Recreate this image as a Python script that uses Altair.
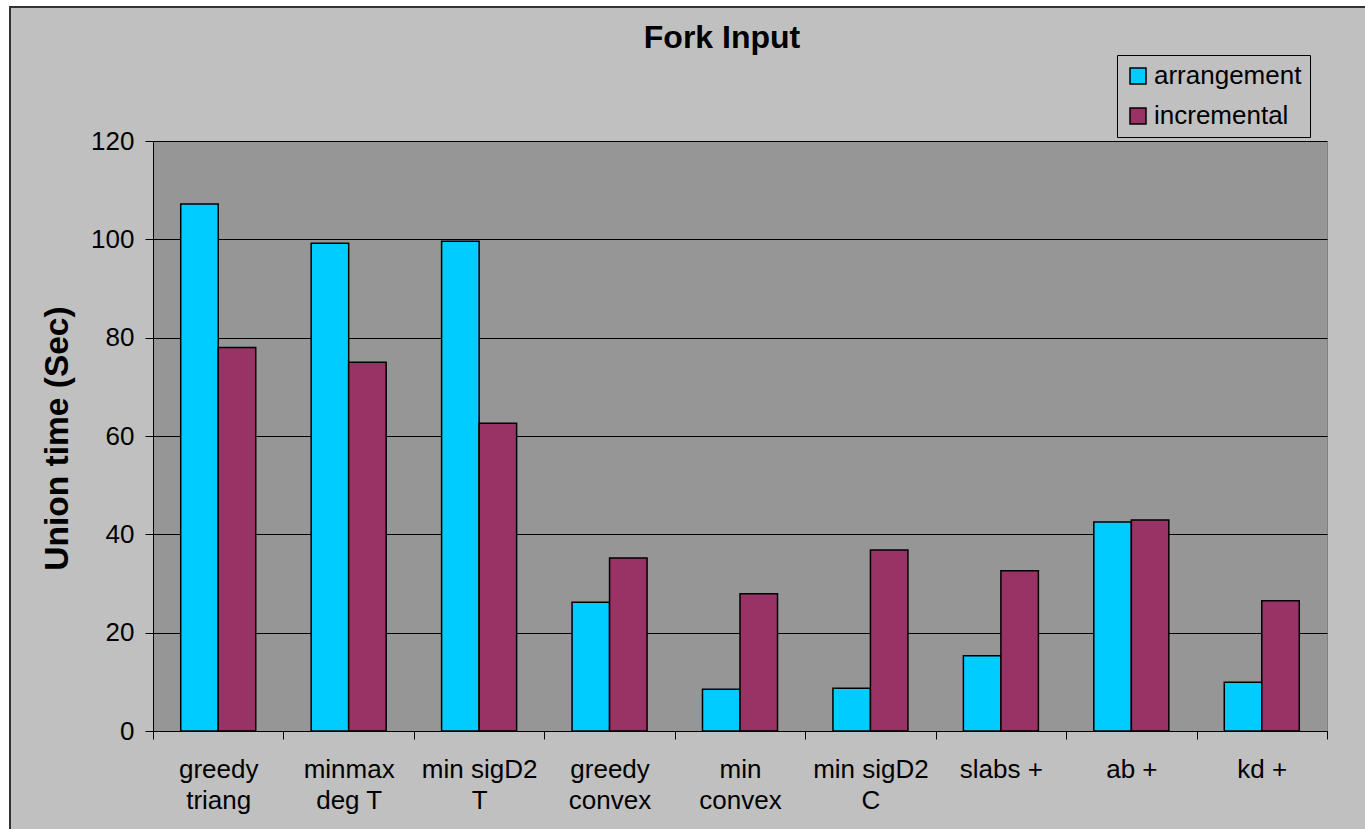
import altair as alt
import pandas as pd

# Category labels (two-line labels split on the newline)
categories = [
    "greedy\ntriang",
    "minmax\ndeg T",
    "min sigD2\nT",
    "greedy\nconvex",
    "min\nconvex",
    "min sigD2\nC",
    "slabs +",
    "ab +",
    "kd +",
]
series = ["arrangement", "incremental"]
arrangement = [107.2, 99.2, 99.6, 26.2, 8.5, 8.7, 15.3, 42.5, 9.9]
incremental = [78.0, 75.0, 62.6, 35.2, 27.9, 36.8, 32.6, 42.9, 26.5]
y_ticks = [0, 20, 40, 60, 80, 100, 120]

FONT = "Liberation Sans"
W, H = 1174, 590

rows = []
for cat, a, b in zip(categories, arrangement, incremental):
    rows.append({"category": cat, "series": "arrangement", "time": a})
    rows.append({"category": cat, "series": "incremental", "time": b})
df = pd.DataFrame(rows)

bars = alt.Chart(df).mark_bar(stroke="black", strokeWidth=1.5).encode(
    x=alt.X(
        "category:N",
        sort=categories,
        scale=alt.Scale(paddingInner=0, paddingOuter=0),
        axis=alt.Axis(
            title=None,
            labelAngle=0,
            labelExpr="split(datum.label, '\\n')",
            labelFont=FONT,
            labelFontSize=26,
            labelColor="black",
            labelLineHeight=31,
            labelPadding=17,
            labelBaseline="top",
            tickBand="extent",
            tickSize=8,
            tickColor="black",
            domainColor="black",
            grid=False,
        ),
    ),
    # the pair of bars fills a little over half of each category slot
    xOffset=alt.XOffset(
        "series:N", sort=series,
        scale=alt.Scale(paddingInner=0, paddingOuter=0.739),
    ),
    y=alt.Y(
        "time:Q",
        scale=alt.Scale(domain=[0, 120], nice=False),
        axis=alt.Axis(
            title="Union time (Sec)",
            values=y_ticks,
            labelFont=FONT,
            labelFontSize=26,
            labelColor="black",
            labelPadding=11,
            tickSize=8,
            tickColor="black",
            domainColor="black",
            gridColor="black",
            gridWidth=1,
            titleFont=FONT,
            titleFontSize=33.5,
            titleFontWeight="bold",
            titleColor="black",
            titleAngle=-90,
            titleAlign="center",
            titleBaseline="middle",
            titleX=-96,
            titleY=297,
        ),
    ),
    color=alt.Color(
        "series:N",
        sort=series,
        scale=alt.Scale(domain=series, range=["#00ccff", "#993366"]),
        legend=alt.Legend(
            title=None,
            orient="none",
            legendX=964,
            legendY=-86,
            strokeColor="black",
            fillColor="#c0c0c0",
            padding=8,
            symbolType="square",
            symbolSize=256,
            symbolStrokeColor="black",
            symbolStrokeWidth=1.5,
            symbolOpacity=1,
            labelFont=FONT,
            labelFontSize=26,
            labelColor="black",
            labelOffset=3,
            rowPadding=14,
        ),
    ),
)

one = alt.InlineData(values=[{"k": 1}])

# white page margin to the left of and above the chart frame
margin_left = alt.Chart(one).mark_rect(color="white").encode(
    x=alt.value(-153), x2=alt.value(-144), y=alt.value(-141), y2=alt.value(H + 98)
)
margin_top = alt.Chart(one).mark_rect(color="white").encode(
    x=alt.value(-153), x2=alt.value(W + 38), y=alt.value(-141), y2=alt.value(-135)
)
frame = alt.Chart(one).mark_rect(
    fillOpacity=0, stroke="#333333", strokeWidth=2
).encode(
    x=alt.value(-143), x2=alt.value(W + 60), y=alt.value(-134), y2=alt.value(H + 120)
)

title = alt.Chart(alt.InlineData(values=[{"t": "Fork Input"}])).mark_text(
    font=FONT, fontSize=32, fontWeight="bold", color="black",
    align="center", baseline="alphabetic",
).encode(text="t:N", x=alt.value(569), y=alt.value(-93))

chart = alt.layer(margin_left, margin_top, frame, bars, title).properties(
    width=W,
    height=H,
    background="#c0c0c0",
    padding={"left": 153, "top": 141, "right": 38, "bottom": 98},
    autosize=alt.AutoSizeParams(type="none"),
).configure_view(
    fill="#969696", stroke="#808080", strokeWidth=1
)

chart.save("out.html", embed_options={"renderer": "svg", "actions": False})
